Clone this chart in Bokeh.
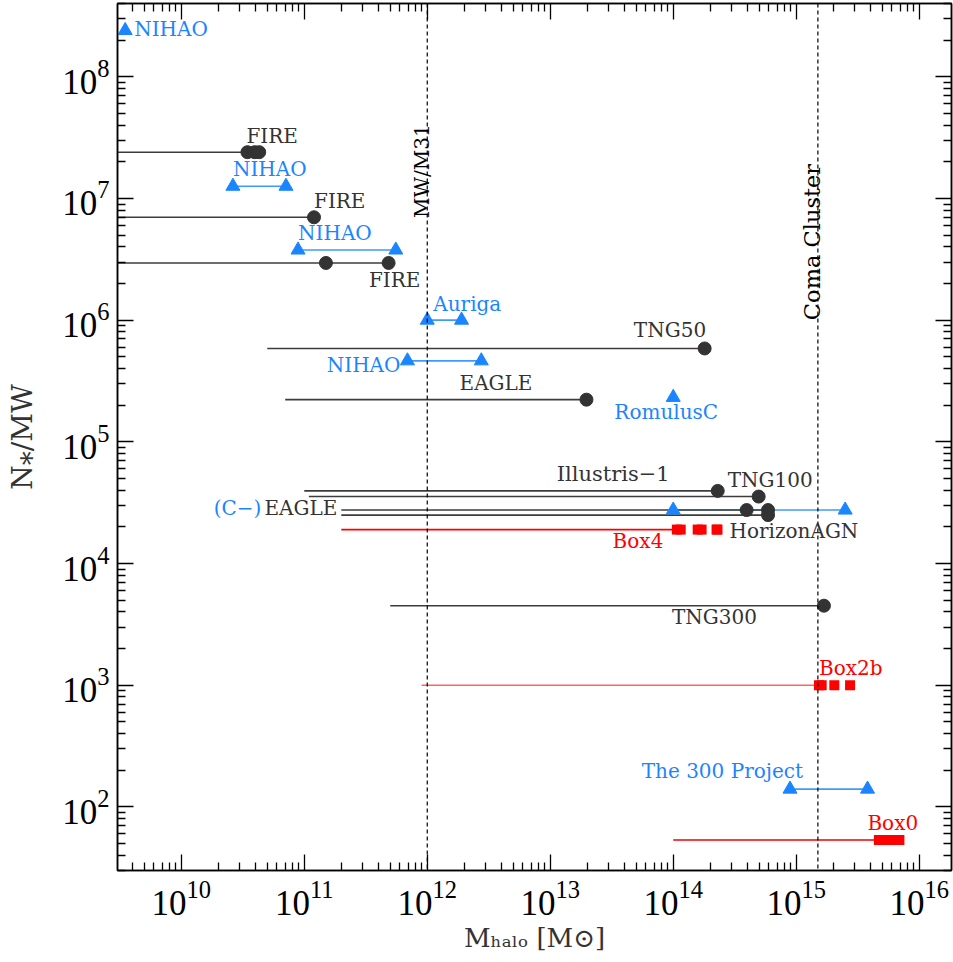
import math
from bokeh.plotting import figure
from bokeh.models import ColumnDataSource, FixedTicker, LogAxis, Span, Label
from bokeh.embed import file_html
from bokeh.resources import INLINE

# ---------------------------------------------------------------------------
# Data: halo mass [Msun] vs. number of stellar particles per Milky-Way mass
# ---------------------------------------------------------------------------

# cosmological boxes and zooms drawn as dark circles (line = mass coverage)
dark_names = ["FIRE", "FIRE", "FIRE", "TNG50", "EAGLE", "Illustris-1",
              "TNG100", "EAGLE", "HorizonAGN", "TNG300"]
dark_ratio = [2.4e7, 7.0e6, 2.95e6, 5.85e5, 2.22e5, 3.95e4,
              3.55e4, 2.75e4, 2.5e4, 4.5e3]
dark_mass_min = [1e9, 1e9, 1e9, 5e10, 7e10, 1.0e11,
                 1.09e11, 2e11, 2e11, 5e11]
dark_mass_pts = [[3.45e10, 3.95e10, 4.3e10], [1.2e11], [1.5e11, 4.85e11],
                 [1.8e14], [1.97e13], [2.3e14], [4.95e14],
                 [3.95e14, 5.9e14], [5.9e14], [1.68e15]]

# zoom-in suites drawn as blue triangles
zoom_names = ["NIHAO", "NIHAO", "NIHAO", "Auriga", "NIHAO", "RomulusC",
              "C-EAGLE", "The 300 Project"]
zoom_ratio = [2.4e8, 1.26e7, 3.77e6, 1.0e6, 4.63e5, 2.32e5, 2.75e4, 1.4e2]
zoom_mass = [[3.5e9], [2.63e10, 7.1e10], [8.9e10, 5.55e11], [1e12, 1.9e12],
             [6.9e11, 2.75e12], [1e14], [1e14, 2.5e15], [8.9e14, 3.8e15]]

# Magneticum boxes drawn as red squares
box_names = ["Box4", "Box2b", "Box0"]
box_ratio = [1.9e4, 1.0e3, 53.5]
box_mass_min = [2e11, 9e11, 1e14]
box_mass_pts = [[1.07e14, 1.15e14, 1.58e14, 1.70e14, 2.25e14, 2.29e14],
                [1.53e15, 1.61e15, 2.04e15, 2.74e15],
                [4.7e15, 5.2e15, 5.7e15, 6.3e15, 6.9e15]]

# reference halo masses
ref_names = ["MW/M31", "Coma Cluster"]
ref_mass = [1e12, 1.5e15]

# axis ticks
x_major = [10.0 ** e for e in range(10, 17)]
x_minor = [k * 10.0 ** e for e in range(9, 17) for k in range(2, 10)]
y_major = [10.0 ** e for e in range(2, 9)]
y_minor = [k * 10.0 ** e for e in range(1, 9) for k in range(2, 10)]

# ---------------------------------------------------------------------------
DARK = "#333333"
DARK_LINE = "#3c3c3c"
BLUE = "#1a85ff"
BLUE_LINE = "#3d9bff"
RED = "#ff0000"
TXT_FONT = "DejaVu Serif"
TICK_FONT = "Liberation Serif"
AX = "#333333"

X0, X1 = 3.03e9, 1.83e16
Y0, Y1 = 30.0, 4.0e8

p = figure(width=953, height=962, x_axis_type="log", y_axis_type="log",
           x_range=(X0, X1), y_range=(Y0, Y1),
           output_backend="svg", toolbar_location=None,
           min_border_left=117, min_border_right=2,
           min_border_top=3, min_border_bottom=92,
           background_fill_color="white", border_fill_color="white",
           outline_line_color="black", outline_line_width=1.5)
p.xgrid.visible = False
p.ygrid.visible = False


def style_axis(ax, major, minor, show_labels=True):
    ax.ticker = FixedTicker(ticks=major, minor_ticks=minor)
    ax.axis_line_color = "black"
    ax.axis_line_width = 1.5
    ax.major_tick_in = 16
    ax.major_tick_out = 0
    ax.minor_tick_in = 8
    ax.minor_tick_out = 0
    ax.major_tick_line_color = "black"
    ax.minor_tick_line_color = "black"
    ax.major_tick_line_width = 1.3
    ax.minor_tick_line_width = 1.3
    if show_labels:
        ax.major_label_text_font = TICK_FONT
        ax.major_label_text_font_size = "35px"
        ax.major_label_text_color = "black"
        ax.axis_label_text_font = TXT_FONT
        ax.axis_label_text_font_size = "26px"
        ax.axis_label_text_font_style = "normal"
        ax.axis_label_text_color = AX
    else:
        ax.axis_label = None
        ax.major_label_text_font_size = "1px"
        ax.major_label_text_alpha = 0
        ax.major_label_standoff = 0


style_axis(p.xaxis[0], x_major, x_minor)
p.xaxis[0].major_label_standoff = 10
p.xaxis[0].axis_label = "M\u2095\u2090\u2097\u2092 [M\u2299]"
p.xaxis[0].axis_label_standoff = 5
style_axis(p.yaxis[0], y_major, y_minor)
p.yaxis[0].major_label_standoff = 8
p.yaxis[0].axis_label = "N\u204e/MW"
p.yaxis[0].axis_label_text_font_size = "28px"
p.yaxis[0].axis_label_standoff = 20

top_axis = LogAxis()
style_axis(top_axis, x_major, x_minor, show_labels=False)
p.add_layout(top_axis, "above")
right_axis = LogAxis()
style_axis(right_axis, y_major, y_minor, show_labels=False)
p.add_layout(right_axis, "right")

# --- coverage lines -------------------------------------------------------
multi = [(min(m), max(m), r) for m, r in zip(zoom_mass, zoom_ratio) if len(m) > 1]
p.segment(x0=[a for a, _, _ in multi], x1=[b for _, b, _ in multi],
          y0=[r for _, _, r in multi], y1=[r for _, _, r in multi],
          line_color=BLUE_LINE, line_width=1.6)

p.segment(x0=dark_mass_min, x1=[max(m) for m in dark_mass_pts],
          y0=dark_ratio, y1=dark_ratio, line_color=DARK_LINE, line_width=1.6)

p.segment(x0=box_mass_min, x1=[min(m) for m in box_mass_pts],
          y0=box_ratio, y1=box_ratio,
          line_color=[RED, "#ff6464", "#f00000"], line_width=1.6)

# --- markers ---------------------------------------------------------------
blue_src = ColumnDataSource(dict(
    x=[m for ms in zoom_mass for m in ms],
    y=[r for ms, r in zip(zoom_mass, zoom_ratio) for _ in ms]))
p.scatter("x", "y", source=blue_src, marker="triangle", size=14,
          fill_color=BLUE, line_color=BLUE)

dark_src = ColumnDataSource(dict(
    x=[m for ms in dark_mass_pts for m in ms],
    y=[r for ms, r in zip(dark_mass_pts, dark_ratio) for _ in ms]))
p.scatter("x", "y", source=dark_src, marker="circle", size=13,
          fill_color=DARK, line_color=DARK)

red_src = ColumnDataSource(dict(
    x=[m for ms in box_mass_pts for m in ms],
    y=[r for ms, r in zip(box_mass_pts, box_ratio) for _ in ms]))
p.scatter("x", "y", source=red_src, marker="square", size=10,
          fill_color=RED, line_color=None)

# --- reference masses ------------------------------------------------------
for m in ref_mass:
    p.add_layout(Span(location=m, dimension="height", line_color="black",
                      line_width=1.2, line_dash="4 3"))


# --- text ------------------------------------------------------------------
def note(text, x, y, dx, dy, color, align="left", size="20px",
         angle=0.0, baseline="middle", font=TXT_FONT):
    """Place a text label at a data anchor, shifted dx right / dy down (px)."""
    p.add_layout(Label(x=x, y=y, x_offset=dx, y_offset=-dy, text=text,
                       text_color=color, text_align=align,
                       text_baseline=baseline, text_font=font,
                       text_font_size=size, angle=angle))


# zoom-suite labels
note(zoom_names[0], zoom_mass[0][0], zoom_ratio[0], 9, -1.5, BLUE)
note(zoom_names[1], zoom_mass[1][0], zoom_ratio[1], 0, -17.5, BLUE)
note(zoom_names[2], zoom_mass[2][0], zoom_ratio[2], 0, -17.5, BLUE)
note(zoom_names[3], zoom_mass[3][0], zoom_ratio[3], 6, -16, BLUE)
note(zoom_names[4], zoom_mass[4][0], zoom_ratio[4], -7, 3.8, BLUE, align="right")
note(zoom_names[5], zoom_mass[5][0], zoom_ratio[5], -7, 14.5, BLUE, align="center")
note(zoom_names[7], zoom_mass[7][0], zoom_ratio[7], 13, -18, BLUE, align="right")

# dark labels
note(dark_names[0], max(dark_mass_pts[0]), dark_ratio[0], 13, -16.5, DARK, align="center")
note(dark_names[1], dark_mass_pts[1][0], dark_ratio[1], 0, -16.3, DARK)
note(dark_names[2], max(dark_mass_pts[2]), dark_ratio[2], 6, 17, DARK, align="center")
note(dark_names[3], dark_mass_pts[3][0], dark_ratio[3], 1.5, -18.5, DARK, align="right")
note(dark_names[4], dark_mass_pts[4][0], dark_ratio[4], -54, -16.5, DARK, align="right")
note("Illustris\u22121", dark_mass_pts[5][0], dark_ratio[5], -48, -17, DARK, align="right",
     size="21px")
note(dark_names[6], dark_mass_pts[6][0], dark_ratio[6], -31, -17, DARK)
note(dark_names[8], dark_mass_pts[8][0], dark_ratio[8], -38.5, 15.7, DARK)
note(dark_names[9], dark_mass_pts[9][0], dark_ratio[9], -67, 11, DARK, align="right")
note(dark_names[7], dark_mass_min[7], dark_ratio[7], -4, -2, DARK, align="right")
note("(C\u2212)", dark_mass_min[7], dark_ratio[7], -80, -2, BLUE, align="right")

# box labels
note(box_names[0], min(box_mass_pts[0]), box_ratio[0], -13.5, 11.5, RED, align="right")
note(box_names[1], min(box_mass_pts[1]), box_ratio[1], 0, -16.7, RED)
note(box_names[2], min(box_mass_pts[2]), box_ratio[2], -11.5, -16.5, RED)

# reference-mass labels (vertical text reading upwards)
note(ref_names[0], ref_mass[0], 6.9e6, -5.5, 0, "black", angle=math.pi / 2,
     baseline="alphabetic")
note(ref_names[1], ref_mass[1], 1.0e6, -6, 0, "black", angle=math.pi / 2,
     baseline="alphabetic", size="22.5px")

open("out.html", "w").write(file_html(p, INLINE))
